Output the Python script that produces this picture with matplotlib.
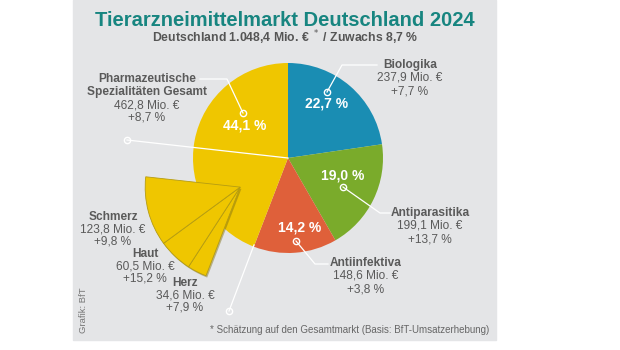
import matplotlib
matplotlib.use("Agg")
import matplotlib.pyplot as plt
from matplotlib.patches import Rectangle
import numpy as np

plt.rcParams['font.family'] = ['Liberation Sans', 'DejaVu Sans']

# data (Mio. EUR, growth in %)
segments = ['Biologika', 'Antiparasitika', 'Antiinfektiva', 'Pharmazeutische\nSpezialitäten Gesamt']
values = [237.9, 199.1, 148.6, 462.8]
growth = ['+7,7 %', '+13,7 %', '+3,8 %', '+8,7 %']
shares = ['22,7 %', '19,0 %', '14,2 %', '44,1 %']
sub_names = ['Herz', 'Haut', 'Schmerz']
sub_values = [34.6, 60.5, 123.8]
sub_growth = ['+7,9 %', '+15,2 %', '+9,8 %']
total = 1048.4

colors = ['#1a8db3', '#7aab2b', '#df603a', '#efc600']
label_gray = '#5a5a5a'
bg = '#e4e5e7'

fig = plt.figure(figsize=(6.2, 3.5), dpi=100)
ax = fig.add_axes([0, 0, 1, 1])
H = 350


def Y(y):
    return H - y


def fmt(v):
    return f"{v:.1f}".replace('.', ',') + ' Mio. €'


# gray panel
ax.add_patch(Rectangle((73, Y(340)), 423, 340, color=bg, zorder=0))

cx, cy, r = 288, Y(158), 95
wedges, _ = ax.pie(values, colors=colors, startangle=90, counterclock=False,
                   center=(cx, cy), radius=r, wedgeprops=dict(linewidth=0))
for w in wedges:
    w.set_zorder(2)

# exploded part of the yellow slice
start_sub = 90 - 360 * sum(values[:3]) / total
mid = np.deg2rad(start_sub - 360 * sum(sub_values) / total / 2)
off = 56
scx, scy = cx + off * np.cos(mid), cy + off * np.sin(mid)
rest = total - sum(sub_values)
sw, _ = ax.pie(sub_values + [rest], colors=[colors[3]] * 4,
               startangle=start_sub, counterclock=False, center=(scx, scy), radius=r,
               wedgeprops=dict(linewidth=0.6, edgecolor='#b59c12'))
sw[-1].set_visible(False)
for w in sw[:3]:
    w.set_zorder(4)

# soft shadow under exploded wedges
sh, _ = ax.pie(sub_values + [rest], colors=['#7d6c10'] * 4,
               startangle=start_sub, counterclock=False, center=(scx + 1.2, scy - 1.8), radius=r,
               wedgeprops=dict(linewidth=0))
sh[-1].set_visible(False)
for w in sh[:3]:
    w.set_zorder(3)
    w.set_alpha(0.45)

ax.set_xlim(0, 620)
ax.set_ylim(0, 350)
ax.set_aspect('equal')
ax.axis('off')

# leader lines (image coordinates)
leaders = [
    [(127, 140), (cx, Y(cy))],
    [(243, 113), (227, 79), (200, 79)],
    [(327, 92), (342, 65), (377, 65)],
    [(343, 187), (380, 213), (390, 213)],
    [(296, 241), (315, 264), (328, 264)],
    [(229, 311), (254, 245)],
]
for pts in leaders:
    xs = [p[0] for p in pts]
    ys = [Y(p[1]) for p in pts]
    ax.plot(xs, ys, color='white', lw=0.9, zorder=5)
    ax.plot(xs[0], ys[0], 'o', ms=4.5, mfc='none', mec='white', mew=1, zorder=6)

# share labels in slices
share_pos = [(327, 103), (343, 176), (300, 228), (245, 125)]
for s, (x, y) in zip(shares, share_pos):
    ax.text(x, Y(y), s, color='white', fontsize=10, fontweight='bold',
            ha='center', va='center', zorder=7)


def label(x, y, lines, step=13, nbold=1):
    for i, t in enumerate(lines):
        ax.text(x, Y(y + i * step), t, color=label_gray, fontsize=8.6,
                fontweight='bold' if i < nbold else 'normal',
                ha='center', va='center', zorder=7)


# outer labels
lab_pos = [(410, 65), (430, 213), (366, 263), (147, 79)]
for name, v, g, (x, y) in zip(segments, values, growth, lab_pos):
    parts = name.split('\n')
    label(x, y, parts + [fmt(v), g], step=13, nbold=len(parts))

sub_pos = [(185, 283), (145, 254), (113, 217)]
for name, v, g, (x, y) in zip(sub_names, sub_values, sub_growth, sub_pos):
    label(x, y, [name, fmt(v), g], step=12.2)

# titles
ax.text(285, Y(20), 'Tierarzneimittelmarkt Deutschland 2024', color='#178580',
        fontsize=14.5, fontweight='bold', ha='center', va='center')
ax.text(285, Y(38), 'Deutschland 1.048,4 Mio. € $^*$ / Zuwachs 8,7 %', color='#555555',
        fontsize=8.8, fontweight='bold', ha='center', va='center')

ax.text(83, Y(310), 'Grafik: BfT', color='#777777', fontsize=6.8, rotation=90,
        ha='center', va='center')
ax.text(489, Y(330), '* Schätzung auf den Gesamtmarkt (Basis: BfT-Umsatzerhebung)',
        color='#666666', fontsize=7, ha='right', va='center')

fig.savefig('out.png', dpi=100, facecolor='white')
